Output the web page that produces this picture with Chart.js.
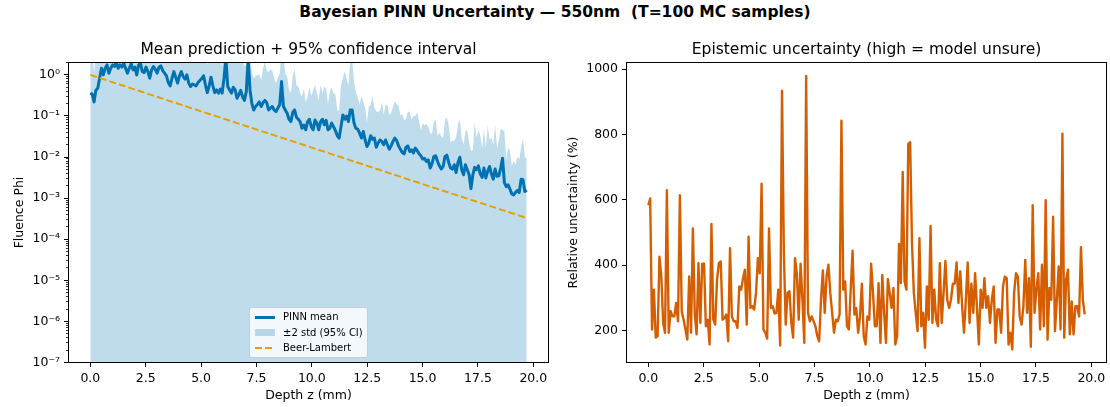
<!DOCTYPE html>
<html>
<head>
<meta charset="utf-8">
<title>Bayesian PINN Uncertainty</title>
<script src="https://cdn.jsdelivr.net/npm/chart.js@4.4.1/dist/chart.umd.min.js"></script>
<style>
  html, body { margin: 0; padding: 0; background: #fff; }
  body { width: 1110px; height: 407px; position: relative; overflow: hidden; font-family: "DejaVu Sans", sans-serif; }
  #suptitle { position: absolute; left: 0; top: 0; width: 1110px; line-height: 24px; text-align: center;
              font-size: 15.5px; font-weight: bold; white-space: pre; }
  canvas { position: absolute; top: 0; }
  #left { left: 0; }
  #right { left: 555px; }
  #legend { position: absolute; left: 249px; top: 307px; width: 119px; height: 51px; box-sizing: border-box;
            border: 1px solid #ccc; border-radius: 3px; background: rgba(255,255,255,0.8); font-size: 10px; }
  .handle { position: absolute; left: 5px; width: 20px; }
  .label { position: absolute; left: 33px; height: 12px; line-height: 12px; white-space: nowrap; }
</style>
</head>
<body>
<div id="suptitle">Bayesian PINN Uncertainty — 550nm  (T=100 MC samples)</div>
<canvas id="left" width="555" height="407"></canvas>
<canvas id="right" width="555" height="407"></canvas>
<div id="legend">
  <div class="handle" style="top:7.5px;height:3px;background:#0072B2"></div>
  <div class="label" style="top:3px">PINN mean</div>
  <div class="handle" style="top:21px;height:7px;background:rgba(0,114,178,0.25)"></div>
  <div class="label" style="top:19px">±2 std (95% CI)</div>
  <div class="handle" style="top:39px;height:2px;background:repeating-linear-gradient(to right,#E69F00 0 7px,transparent 7px 10px)"></div>
  <div class="label" style="top:34px">Beer-Lambert</div>
</div>
<script>
// values
const DEPTH_MAX = 19.7; // mm, last evaluated depth

// PINN mean fluence (MC mean)
const PINN_MEAN = [
  0.36, 0.34, 0.22, 0.42, 0.47, 0.83, 1.45, 1.0, 1.45, 1.75,
  1.1, 1.45, 1.75, 1.6, 2.0, 1.45, 1.75, 1.55, 1.9, 1.45,
  1.1, 1.45, 1.9, 1.32, 1.55, 1.0, 1.75, 1.9, 1.2, 1.14,
  1.55, 1.2, 0.83, 1.32, 1.6, 1.37, 1.1, 1.55, 1.65, 1.27,
  1.1, 0.95, 0.65, 0.54, 0.83, 1.2, 0.88, 0.63, 0.95, 1.2,
  0.91, 0.79, 1.0, 0.63, 0.52, 0.6, 0.57, 0.54, 0.65, 0.73,
  0.81, 0.95, 0.57, 0.37, 0.54, 0.88, 0.54, 0.37, 0.43, 0.36,
  0.45, 0.36, 0.83, 2.6, 0.52, 0.43, 0.36, 0.5, 0.43, 0.27,
  0.33, 0.42, 0.29, 0.24, 0.39, 2.6, 0.43, 0.2, 0.14, 0.17,
  0.19, 0.22, 0.17, 0.21, 0.24, 0.21, 0.14, 0.155, 0.17, 0.14,
  0.128, 0.155, 0.19, 0.69, 0.17, 0.14, 0.117, 0.083, 0.073, 0.12,
  0.14, 0.093, 0.083, 0.073, 0.05, 0.06, 0.046, 0.073, 0.083, 0.055,
  0.046, 0.08, 0.067, 0.046, 0.073, 0.083, 0.061, 0.078, 0.046, 0.05,
  0.067, 0.055, 0.044, 0.033, 0.029, 0.055, 0.106, 0.083, 0.1, 0.073,
  0.14, 0.14, 0.067, 0.05, 0.048, 0.038, 0.029, 0.042, 0.026, 0.018,
  0.022, 0.033, 0.027, 0.029, 0.0174, 0.022, 0.026, 0.024, 0.02, 0.026,
  0.02, 0.0155, 0.0187, 0.024, 0.029, 0.025, 0.0187, 0.0155, 0.0129, 0.012,
  0.0174, 0.0187, 0.0136, 0.015, 0.0125, 0.0165, 0.0145, 0.012, 0.0107, 0.0089,
  0.0093, 0.0078, 0.0086, 0.0054, 0.0068, 0.0103, 0.0107, 0.0078, 0.0061, 0.0051,
  0.0059, 0.0103, 0.0111, 0.0074, 0.0054, 0.0051, 0.0065, 0.0042, 0.0074, 0.0099,
  0.0049, 0.0037, 0.0065, 0.0049, 0.0037, 0.0017, 0.0037, 0.0056, 0.0049, 0.0061,
  0.0039, 0.0032, 0.0054, 0.0031, 0.0045, 0.0059, 0.0039, 0.0029, 0.0051, 0.0034,
  0.0035, 0.0054, 0.0093, 0.0024, 0.0019, 0.0021, 0.00165, 0.00127, 0.0012, 0.00138,
  0.00154, 0.00138, 0.0029, 0.0028, 0.00145, 0.00158
];

// relative uncertainty std/mean in %
const REL_UNC = [
  583, 604, 203, 325, 178, 183, 426, 365, 223, 193, 629, 193, 259, 243, 243, 284, 228, 614, 259, 233,
  203, 172, 365, 193, 512, 254, 188, 406, 223, 404, 404, 213, 233, 157, 526, 233, 218, 355, 406, 411,
  233, 238, 249, 167, 452, 243, 228, 228, 208, 335, 325, 360, 386, 218, 487, 269, 274, 264, 315, 421,
  375, 649, 203, 193, 175, 512, 269, 274, 252, 254, 325, 154, 934, 436, 218, 315, 320, 223, 178, 421,
  375, 233, 404, 294, 162, 979, 254, 228, 243, 228, 213, 183, 167, 294, 384, 254, 365, 401, 315, 254,
  193, 233, 228, 249, 842, 325, 350, 213, 203, 325, 444, 249, 269, 193, 243, 343, 183, 157, 243, 233,
  404, 315, 213,
  213, 345, 162, 370, 254, 162, 357, 315, 269, 330, 157, 183, 465, 345, 685, 350, 325, 771, 776, 467,
  315, 254, 198, 482, 213, 254, 147, 335, 233, 520, 223, 325, 233, 213, 406, 223, 315, 413, 294, 269,
  294, 343, 343, 408, 284, 381, 274, 193, 294, 408, 223, 343, 254, 375, 269, 157, 325, 269, 360, 269,
  305, 223,
  294, 335, 162, 264, 264, 193, 335, 365, 360, 157, 193, 142, 315, 375, 365, 243, 218, 274, 416, 254,
  360, 150, 583, 254, 325, 375, 203, 401, 213, 599, 172, 330, 294, 548, 198, 294, 396, 203, 802, 178,
  355, 386, 188, 289, 188, 274, 274, 243, 455, 294, 249
];

// Beer-Lambert reference curve
const BEER_Z = [0, 5, 10, 15, 19.7];
const BEER_PHI = [1.0, 0.13, 0.017, 0.0022, 0.00033];

// axis ticks
const X_TICKS = [0, 2.5, 5, 7.5, 10, 12.5, 15, 17.5, 20];
const LOG_TICKS = [1, 1e-1, 1e-2, 1e-3, 1e-4, 1e-5, 1e-6, 1e-7];
const REL_TICKS = [200, 400, 600, 800, 1000];

// depth grid and the +2 std band
const depth = REL_UNC.map((_, i) => i * DEPTH_MAX / (REL_UNC.length - 1));
const upper = PINN_MEAN.map((m, i) => m * (1 + 2 * REL_UNC[i] / 100));

const LOG_MINOR = [];
LOG_TICKS.forEach(d => {
    for (let k = 2; k <= 9; k++) {
        if (d * k <= 2) LOG_MINOR.push(d * k);
    }
});

const SUP = { '-': '\u207B', '0': '\u2070', '1': '\u00B9', '2': '\u00B2', '3': '\u00B3',
              '4': '\u2074', '5': '\u2075', '6': '\u2076', '7': '\u2077', '8': '\u2078', '9': '\u2079' };
const logLabel = v => '10' + String(Math.round(Math.log10(v))).split('').map(c => SUP[c]).join('');

Chart.defaults.font.family = '"DejaVu Sans", sans-serif';
Chart.defaults.color = '#000';

// full box round the axes, like matplotlib spines
const spines = {
    id: 'spines',
    afterDatasetsDraw(chart) {
        const { ctx, chartArea: a } = chart;
        ctx.save();
        ctx.strokeStyle = '#000';
        ctx.lineWidth = 1;
        ctx.strokeRect(a.left, a.top, a.right - a.left, a.bottom - a.top);
        ctx.restore();
    }
};

const tickGrid = len => ({ display: true, drawOnChartArea: false, drawTicks: true, tickLength: len,
                           color: '#000', tickColor: '#000' });

const xScale = {
    type: 'linear', min: -0.985, max: 20.685, bounds: 'data',
    afterBuildTicks: s => { s.ticks = X_TICKS.map(v => ({ value: v })); },
    afterFit: s => { s.height = 44.5; },
    ticks: { autoSkip: false, maxRotation: 0, padding: 4, font: { size: 12.5 }, callback: v => v.toFixed(1) },
    grid: tickGrid(4.5),
    border: { display: false },
    title: { display: true, text: 'Depth z (mm)', font: { size: 12.5 }, padding: { top: 0, bottom: 3.5 } }
};

const titleOpts = text => ({ display: true, text: text, fullSize: false,
                             font: { size: 15.5, weight: 'normal' }, padding: { top: 7, bottom: 3.4 } });

// Mean prediction + CI
new Chart(document.getElementById('left'), {
    type: 'line',
    data: {
        datasets: [
            {
                label: 'Beer-Lambert',
                data: BEER_Z.map((z, i) => ({ x: z, y: BEER_PHI[i] })),
                borderColor: '#E69F00',
                borderWidth: 1.9,
                borderDash: [7, 3],
                pointRadius: 0,
                fill: false,
                order: 0,
                clip: 0
            },
            {
                label: 'PINN mean',
                data: depth.map((z, i) => ({ x: z, y: PINN_MEAN[i] })),
                borderColor: '#0072B2',
                borderWidth: 3,
                borderJoinStyle: 'round',
                pointRadius: 0,
                fill: false,
                order: 1,
                clip: 0
            },
            {
                label: '±2 std (95% CI)',
                data: depth.map((z, i) => ({ x: z, y: upper[i] })),
                borderWidth: 0,
                borderColor: 'rgba(0,0,0,0)',
                backgroundColor: 'rgba(0,114,178,0.25)',
                pointRadius: 0,
                fill: 'start',
                order: 2,
                clip: 0
            }
        ]
    },
    options: {
        responsive: false,
        animation: false,
        devicePixelRatio: 1,
        layout: { padding: { left: 0, right: 6.5, top: 33.5, bottom: 0 } },
        plugins: {
            legend: { display: false },
            tooltip: { enabled: false },
            title: titleOpts('Mean prediction + 95% confidence interval')
        },
        scales: {
            x: xScale,
            y: {
                type: 'logarithmic', position: 'left', min: 1e-7, max: 2, bounds: 'data', weight: 1,
                afterBuildTicks: s => { s.ticks = LOG_TICKS.map(v => ({ value: v })); },
                afterFit: s => { s.width = 68.5; },
                ticks: { autoSkip: false, padding: 4, font: { size: 12.5 }, callback: v => logLabel(v) },
                grid: tickGrid(4.5),
                border: { display: false },
                title: { display: true, text: 'Fluence Phi', font: { size: 12.5 }, padding: { top: 12, bottom: 0 } }
            },
            yMinor: {
                type: 'logarithmic', position: 'left', min: 1e-7, max: 2, bounds: 'data', weight: 0, display: true,
                afterBuildTicks: s => { s.ticks = LOG_MINOR.map(v => ({ value: v })); },
                afterFit: s => { s.width = 0; },
                ticks: { display: false },
                grid: Object.assign(tickGrid(2.5), { lineWidth: 0.8 }),
                border: { display: false }
            }
        }
    },
    plugins: [spines]
});

// Epistemic uncertainty
new Chart(document.getElementById('right'), {
    type: 'line',
    data: {
        datasets: [
            {
                label: 'Relative uncertainty',
                data: depth.map((z, i) => ({ x: z, y: REL_UNC[i] })),
                borderColor: '#D55E00',
                borderWidth: 2.4,
                borderJoinStyle: 'round',
                pointRadius: 0,
                fill: false,
                clip: 0
            }
        ]
    },
    options: {
        responsive: false,
        animation: false,
        devicePixelRatio: 1,
        layout: { padding: { left: 0, right: 3.5, top: 33.5, bottom: 0 } },
        plugins: {
            legend: { display: false },
            tooltip: { enabled: false },
            title: titleOpts('Epistemic uncertainty (high = model unsure)')
        },
        scales: {
            x: xScale,
            y: {
                type: 'linear', position: 'left', min: 102, max: 1020, bounds: 'data',
                afterBuildTicks: s => { s.ticks = REL_TICKS.map(v => ({ value: v })); },
                afterFit: s => { s.width = 71.5; },
                ticks: { autoSkip: false, padding: 4, font: { size: 12.5 }, callback: v => String(v) },
                grid: tickGrid(4.5),
                border: { display: false },
                title: { display: true, text: 'Relative uncertainty (%)', font: { size: 12.5 }, padding: { top: 11, bottom: 0 } }
            }
        }
    },
    plugins: [spines]
});
</script>
</body>
</html>
